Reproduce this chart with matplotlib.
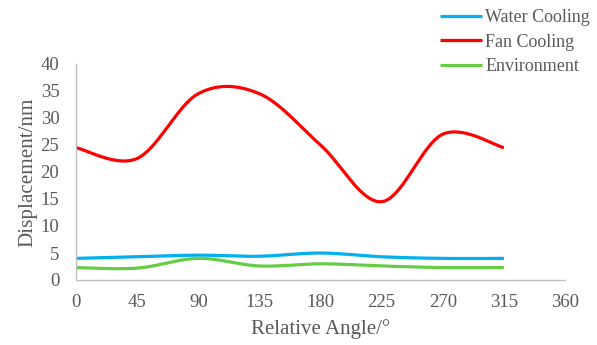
import numpy as np
import matplotlib
matplotlib.use("Agg")
import matplotlib.pyplot as plt

angles = [0, 45, 90, 135, 180, 225, 270, 315]
water = [4.0, 4.3, 4.6, 4.4, 5.0, 4.3, 4.0, 4.0]
fan = [24.5, 22.5, 34.5, 34.5, 25.0, 14.5, 27.0, 24.5]
env = [2.3, 2.2, 4.0, 2.6, 3.0, 2.6, 2.3, 2.3]
xticks = [0, 45, 90, 135, 180, 225, 270, 315, 360]
yticks = [0, 5, 10, 15, 20, 25, 30, 35, 40]


def smooth(x, y, n=40):
    x = np.asarray(x, float)
    y = np.asarray(y, float)
    P = np.column_stack([x, y])
    Pe = np.vstack([P[0], P, P[-1]])
    out = []
    t = np.linspace(0, 1, n)[:, None]
    for i in range(len(P) - 1):
        p0, p1, p2, p3 = Pe[i], Pe[i + 1], Pe[i + 2], Pe[i + 3]
        c1 = p1 + (p2 - p0) / 6
        c2 = p2 - (p3 - p1) / 6
        seg = ((1 - t) ** 3) * p1 + 3 * ((1 - t) ** 2) * t * c1 + 3 * (1 - t) * t ** 2 * c2 + t ** 3 * p2
        out.append(seg if i == 0 else seg[1:])
    S = np.vstack(out)
    return S[:, 0], S[:, 1]


plt.rcParams['font.family'] = ['Liberation Serif', 'DejaVu Serif']
fig = plt.figure(figsize=(5.97, 3.45), dpi=100)
ax = fig.add_axes([76 / 597, 65 / 345, (565 - 76) / 597, (280 - 64) / 345])

series = [("Water Cooling", water, "#00B0F0"),
          ("Fan Cooling", fan, "#FF0000"),
          ("Environment", env, "#66CC44")]
for name, vals, col in series:
    sx, sy = smooth(angles, vals)
    ax.plot(sx, sy, color=col, lw=2.3, label=name, solid_capstyle='butt')

ax.set_xlim(0, 360)
ax.set_ylim(0, 40)
ax.set_xticks(xticks)
ax.set_yticks(yticks)
ax.tick_params(axis='y', length=0, labelsize=13.5, colors='#595959', pad=12)
ax.tick_params(axis='x', length=0, labelsize=13.5, colors='#595959', pad=10)
for s in ['top', 'right']:
    ax.spines[s].set_visible(False)
for s in ['left', 'bottom']:
    ax.spines[s].set_color('#BFBFBF')
    ax.spines[s].set_linewidth(1.0)
ax.set_xlabel("Relative Angle/°", fontsize=15, color='#595959', labelpad=6)
ax.set_ylabel("Displacement/nm", fontsize=15.2, color='#595959', labelpad=2)

leg = fig.legend(loc='upper left', bbox_to_anchor=(440 / 597, 1 - 9 / 345), frameon=False,
                 fontsize=13, handlelength=2.3, handletextpad=0.2, labelspacing=0.42,
                 borderaxespad=0, borderpad=0)
for t in leg.get_texts():
    t.set_color('#595959')

fig.savefig("out.png", dpi=100)
